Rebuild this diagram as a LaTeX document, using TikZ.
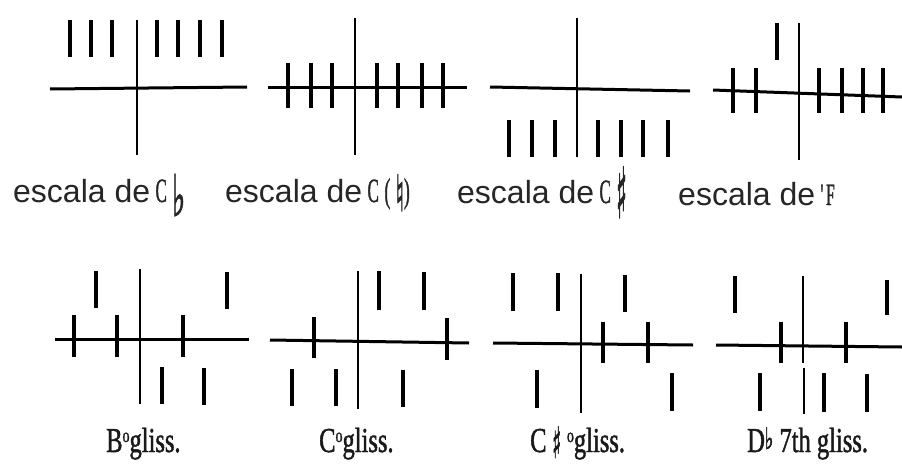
\documentclass[tikz,border=0pt]{standalone}
\usepackage{fontspec}
\usepackage{graphicx}
\setmainfont{Liberation Serif}
\newfontfamily\labsans{Liberation Sans}
\newfontfamily\condserif[FakeStretch=0.7, FakeBold=1.2]{Liberation Serif}
\newfontfamily\narrowserif[FakeStretch=0.5, FakeBold=1]{Liberation Serif}
\newfontfamily\musicsym[FakeBold=2]{DejaVu Sans Bold}

% one bar of a pattern: x, top y, bottom y
\newcommand\tickbar[3]{\draw[barline] (#1,#2) -- (#1,#3);}
% raised small "o" used as the diminished sign
\newcommand\dimsign{\raisebox{10pt}{\fontsize{20}{20}\selectfont o}}
% accidental glyph: size, x scale, y scale, raise, glyph
\newcommand\accid[5]{\raisebox{#4}{\scalebox{#2}[#3]{\musicsym\fontsize{#1}{#1}\selectfont #5}}}

\tikzset{
  staffline/.style={line width=3pt, black},
  axisline/.style={line width=2.2pt, black},
  barline/.style={line width=4pt, black},
  toplabel/.style={anchor=base west, inner sep=0pt,
    font=\labsans\fontsize{32}{36}\selectfont, text=black!85},
  lowlabel/.style={anchor=base west, inner sep=0pt,
    font=\condserif\fontsize{35}{38}\selectfont, text=black!90},
}

\begin{document}
\begin{tikzpicture}[x=1pt, y=-1pt]
\useasboundingbox (0,0) rectangle (902,466);
\fill[white] (0,0) rectangle (902,466);

% ---- C flat scale ----
\draw[staffline] (50,89) -- (247,87);
\draw[axisline] (137,20) -- (137,155);
\foreach \x in {70,91,112,157,178,200,222} {\tickbar{\x}{20}{57}}

% ---- C natural scale ----
\draw[staffline] (268,87) -- (467,87);
\draw[axisline] (355,18) -- (355,155);
\foreach \x in {288,311,332,377,398,422,443} {\tickbar{\x}{63}{108}}

% ---- C sharp scale ----
\draw[staffline] (490,87) -- (690,91);
\draw[axisline] (577,18) -- (577,157);
\foreach \x in {509,532,555,598,621,643,668} {\tickbar{\x}{120}{157}}

% ---- F scale ----
\draw[staffline] (713,90) -- (902,97);
\draw[axisline] (799,23) -- (799,160);
\foreach \x in {733,756,819,842,863,883} {\tickbar{\x}{68}{113}}
\tickbar{777}{23}{60}

% ---- B diminished glissando ----
\draw[staffline] (55,339) -- (249,339);
\draw[axisline] (140,269) -- (140,404);
\foreach \x in {74,117,183} {\tickbar{\x}{315}{357}}
\tickbar{96}{271}{308}
\tickbar{227}{272}{309}
\tickbar{162}{367}{404}
\tickbar{204}{368}{405}

% ---- C diminished glissando ----
\draw[staffline] (270,340) -- (469,343);
\draw[axisline] (358,271) -- (358,409);
\tickbar{314}{317}{358}
\tickbar{447}{318}{360}
\tickbar{379}{271}{310}
\tickbar{424}{272}{310}
\tickbar{292}{369}{406}
\tickbar{336}{369}{406}
\tickbar{403}{370}{407}

% ---- C sharp diminished glissando ----
\draw[staffline] (493,343) -- (693,345);
\draw[axisline] (581,274) -- (581,413);
\tickbar{603}{322}{363}
\tickbar{648}{322}{363}
\tickbar{513}{273}{311}
\tickbar{558}{273}{311}
\tickbar{625}{275}{312}
\tickbar{537}{370}{408}
\tickbar{672}{373}{411}

% ---- D flat seventh glissando ----
\draw[staffline] (716,345) -- (902,347);
\draw[axisline] (803,276) -- (803,363);
\draw[axisline] (804,368) -- (804,414);
\tickbar{781}{322}{363}
\tickbar{846}{322}{363}
\tickbar{735}{276}{313}
\tickbar{887}{280}{315}
\tickbar{760}{373}{411}
\tickbar{824}{373}{412}
\tickbar{867}{374}{412}

% ---- labels ----
\node[toplabel] (lcflat) at (13,202)
  {escala de\,{\narrowserif\fontsize{34}{36}\selectfont C}\,\accid{46}{0.6}{1.25}{-14pt}{♭}};
\node[toplabel] (lcnat) at (225,202)
  {escala de\,{\narrowserif\fontsize{34}{36}\selectfont C\,(}\,\accid{40}{0.6}{1.25}{-9pt}{♮}{\narrowserif\fontsize{34}{36}\selectfont )}};
\node[toplabel] (lcsharp) at (457,203)
  {escala de\,{\narrowserif\fontsize{34}{36}\selectfont C}\,\accid{44}{0.5}{1.6}{-15pt}{♯}};
\node[toplabel] (lf) at (678,205)
  {escala de\,{\narrowserif\fontsize{31}{31}\selectfont\textquotesingle F}};

\node[lowlabel] (lbdim) at (106,452) {B\dimsign gliss.};
\node[lowlabel] (lcdim) at (319,452) {C\dimsign gliss.};
\node[lowlabel] (lcsdim) at (530,452)
  {C\,\accid{36}{0.5}{1.2}{-6pt}{♯}\,\dimsign gliss.};
\node[lowlabel] (ldb) at (747,452)
  {D\accid{30}{0.6}{1}{3pt}{♭} 7th gliss.};
\end{tikzpicture}
\end{document}
